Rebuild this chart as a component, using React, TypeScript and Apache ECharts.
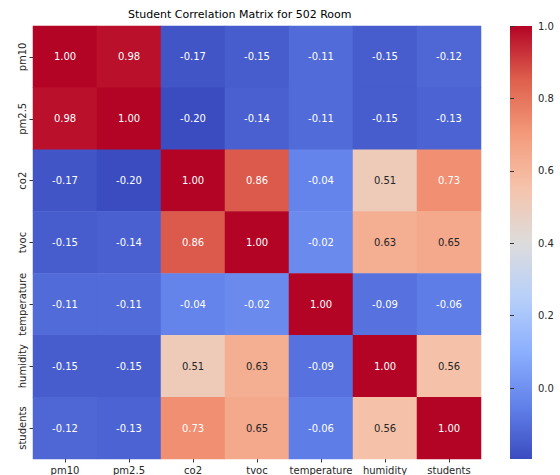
import React, { useEffect, useRef } from "react";
import * as echarts from "echarts";

const titleText = "Student Correlation Matrix for 502 Room";
const variables = ["pm10", "pm2.5", "co2", "tvoc", "temperature", "humidity", "students"];

const rowPm10 = [1.0, 0.98, -0.17, -0.15, -0.11, -0.15, -0.12];
const rowPm25 = [0.98, 1.0, -0.2, -0.14, -0.11, -0.15, -0.13];
const rowCo2 = [-0.17, -0.2, 1.0, 0.86, -0.04, 0.51, 0.73];
const rowTvoc = [-0.15, -0.14, 0.86, 1.0, -0.02, 0.63, 0.65];
const rowTemperature = [-0.11, -0.11, -0.04, -0.02, 1.0, -0.09, -0.06];
const rowHumidity = [-0.15, -0.15, 0.51, 0.63, -0.09, 1.0, 0.56];
const rowStudents = [-0.12, -0.13, 0.73, 0.65, -0.06, 0.56, 1.0];

const matrix = [rowPm10, rowPm25, rowCo2, rowTvoc, rowTemperature, rowHumidity, rowStudents];

const colorbarMin = -0.196;
const colorbarMax = 1.0;
const colorbarTicks = [0, 0.2, 0.4, 0.6, 0.8, 1.0];

const coolwarm = [
  "#3b4cc0",
  "#6282ea",
  "#8db0fe",
  "#b8d0f9",
  "#dddcdc",
  "#f5c4ac",
  "#f49a7b",
  "#de604d",
  "#b40426",
];

export default function App() {
  const ref = useRef<HTMLDivElement>(null);

  useEffect(() => {
    if (!ref.current) return;
    const chart = echarts.init(ref.current, null, { renderer: "svg" });

    const data: any[] = [];
    matrix.forEach((row, r) => {
      row.forEach((v, c) => {
        const dark = v > 0.3 && v < 0.7;
        data.push({
          value: [c, r, v],
          label: { color: dark ? "#262626" : "#ffffff" },
        });
      });
    });

    const font = "DejaVu Sans";
    const gradient = new echarts.graphic.LinearGradient(
      0,
      1,
      0,
      0,
      coolwarm.map((color, i) => ({ offset: i / (coolwarm.length - 1), color }))
    );

    chart.setOption({
      animation: false,
      textStyle: { fontFamily: font },
      title: {
        text: titleText,
        left: 128,
        top: 9,
        padding: 0,
        textStyle: { fontSize: 11, fontWeight: "normal", color: "#000", fontFamily: font },
      },
      grid: [
        { left: 33, top: 26, width: 448, height: 433 },
        { left: 510, top: 26, width: 22, height: 433 },
      ],
      graphic: [
        {
          type: "rect",
          z: 0,
          shape: { x: 510, y: 26, width: 22, height: 433 },
          style: { fill: gradient },
          silent: true,
        },
      ],
      xAxis: [
        {
          type: "category",
          gridIndex: 0,
          data: variables,
          position: "bottom",
          axisLine: { show: false },
          axisTick: { show: true, alignWithLabel: true, length: 3.5, lineStyle: { color: "#333" } },
          axisLabel: { fontSize: 10, color: "#262626", margin: 6, interval: 0 },
          splitLine: { show: false },
          splitArea: { show: false },
        },
        { type: "value", gridIndex: 1, show: false, min: 0, max: 1 },
      ],
      yAxis: [
        {
          type: "category",
          gridIndex: 0,
          data: variables,
          inverse: true,
          axisLine: { show: false },
          axisTick: { show: true, alignWithLabel: true, length: 3.5, lineStyle: { color: "#333" } },
          axisLabel: { fontSize: 10, color: "#262626", margin: 6, rotate: 90, interval: 0 },
          splitLine: { show: false },
          splitArea: { show: false },
        },
        {
          type: "value",
          gridIndex: 1,
          position: "right",
          min: colorbarMin,
          max: colorbarMax,
          axisLine: { show: false },
          splitLine: { show: false },
          axisTick: {
            show: true,
            length: 4,
            customValues: colorbarTicks,
            lineStyle: { color: "#333" },
          },
          axisLabel: {
            customValues: colorbarTicks,
            formatter: (v: number) => v.toFixed(1),
            fontSize: 10,
            color: "#262626",
            margin: 6,
          },
        },
      ],
      visualMap: {
        type: "continuous",
        show: false,
        seriesIndex: 0,
        min: colorbarMin,
        max: colorbarMax,
        inRange: { color: coolwarm },
      },
      series: [
        {
          type: "heatmap",
          xAxisIndex: 0,
          yAxisIndex: 0,
          data,
          label: {
            show: true,
            fontSize: 10,
            fontFamily: font,
            formatter: (p: any) => Number(p.value[2]).toFixed(2),
          },
          itemStyle: { borderWidth: 0 },
          emphasis: { disabled: true },
        },
      ],
    });

    return () => chart.dispose();
  }, []);

  return (
    <div
      ref={ref}
      style={{ position: "fixed", left: 0, top: 0, width: 560, height: 475, background: "#fff" }}
    />
  );
}
